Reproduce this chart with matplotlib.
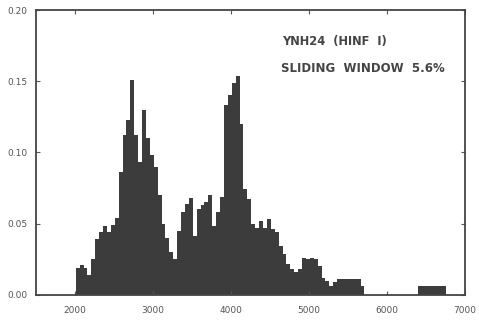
import numpy as np
import matplotlib
matplotlib.use("Agg")
from matplotlib import pyplot as plt

# sliding window histogram, fragment length vs frequency
bin_left = np.arange(2010, 5760, 50)
heights = [0.019, 0.021, 0.019, 0.014, 0.025, 0.039, 0.044, 0.048, 0.044, 0.049,
           0.054, 0.086, 0.112, 0.123, 0.151, 0.112, 0.093, 0.130, 0.110, 0.098,
           0.090, 0.070, 0.050, 0.040, 0.030, 0.025, 0.045, 0.058, 0.064, 0.068,
           0.041, 0.060, 0.063, 0.065, 0.070, 0.048, 0.058, 0.069, 0.133, 0.140,
           0.149, 0.154, 0.120, 0.074, 0.067, 0.050, 0.047, 0.052, 0.047, 0.053,
           0.046, 0.044, 0.034, 0.029, 0.022, 0.018, 0.016, 0.018, 0.026, 0.025,
           0.026, 0.025, 0.020, 0.012, 0.010, 0.006, 0.009, 0.011, 0.011, 0.011,
           0.011, 0.011, 0.011, 0.006, 0.000]
# isolated block at the far right
tail_left = [6400]
tail_width = [350]
tail_height = [0.006]

xticks = [2000, 3000, 4000, 5000, 6000, 7000]
xticklabels = ['2000', '3000', '4000', '5000', '6000', '7000']
yticks = [0.00, 0.05, 0.10, 0.15, 0.20]
yticklabels = ['0.00', '0.05', '0.10', '0.15', '0.20']

fig = plt.figure(figsize=(4.79, 3.24), dpi=100)
ax = fig.add_axes([0.075, 0.09, 0.896, 0.879])

bar_col = '#3c3c3c'
ax.bar(bin_left, heights, width=50, align='edge', color=bar_col, linewidth=0)
ax.bar(tail_left, tail_height, width=tail_width, align='edge', color=bar_col, linewidth=0)

ax.set_xlim(1500, 7000)
ax.set_ylim(0, 0.20)
ax.set_xticks(xticks)
ax.set_xticklabels(xticklabels)
ax.set_yticks(yticks)
ax.set_yticklabels(yticklabels)
ax.tick_params(direction='in', length=3, width=0.8, colors='#555555',
               labelsize=6.5, top=True, right=True)
ax.tick_params(axis='x', pad=8)
ax.tick_params(axis='y', pad=6)
for sp in ax.spines.values():
    sp.set_color('#444444')
    sp.set_linewidth(1.3)

ax.text(4650, 0.178, 'YNH24  (HINF  I)', fontsize=8.3, fontweight='bold',
        color='#444444', va='center')
ax.text(4640, 0.159, 'SLIDING  WINDOW  5.6%', fontsize=8.5, fontweight='bold',
        color='#444444', va='center')

fig.savefig('out.png', dpi=100)
